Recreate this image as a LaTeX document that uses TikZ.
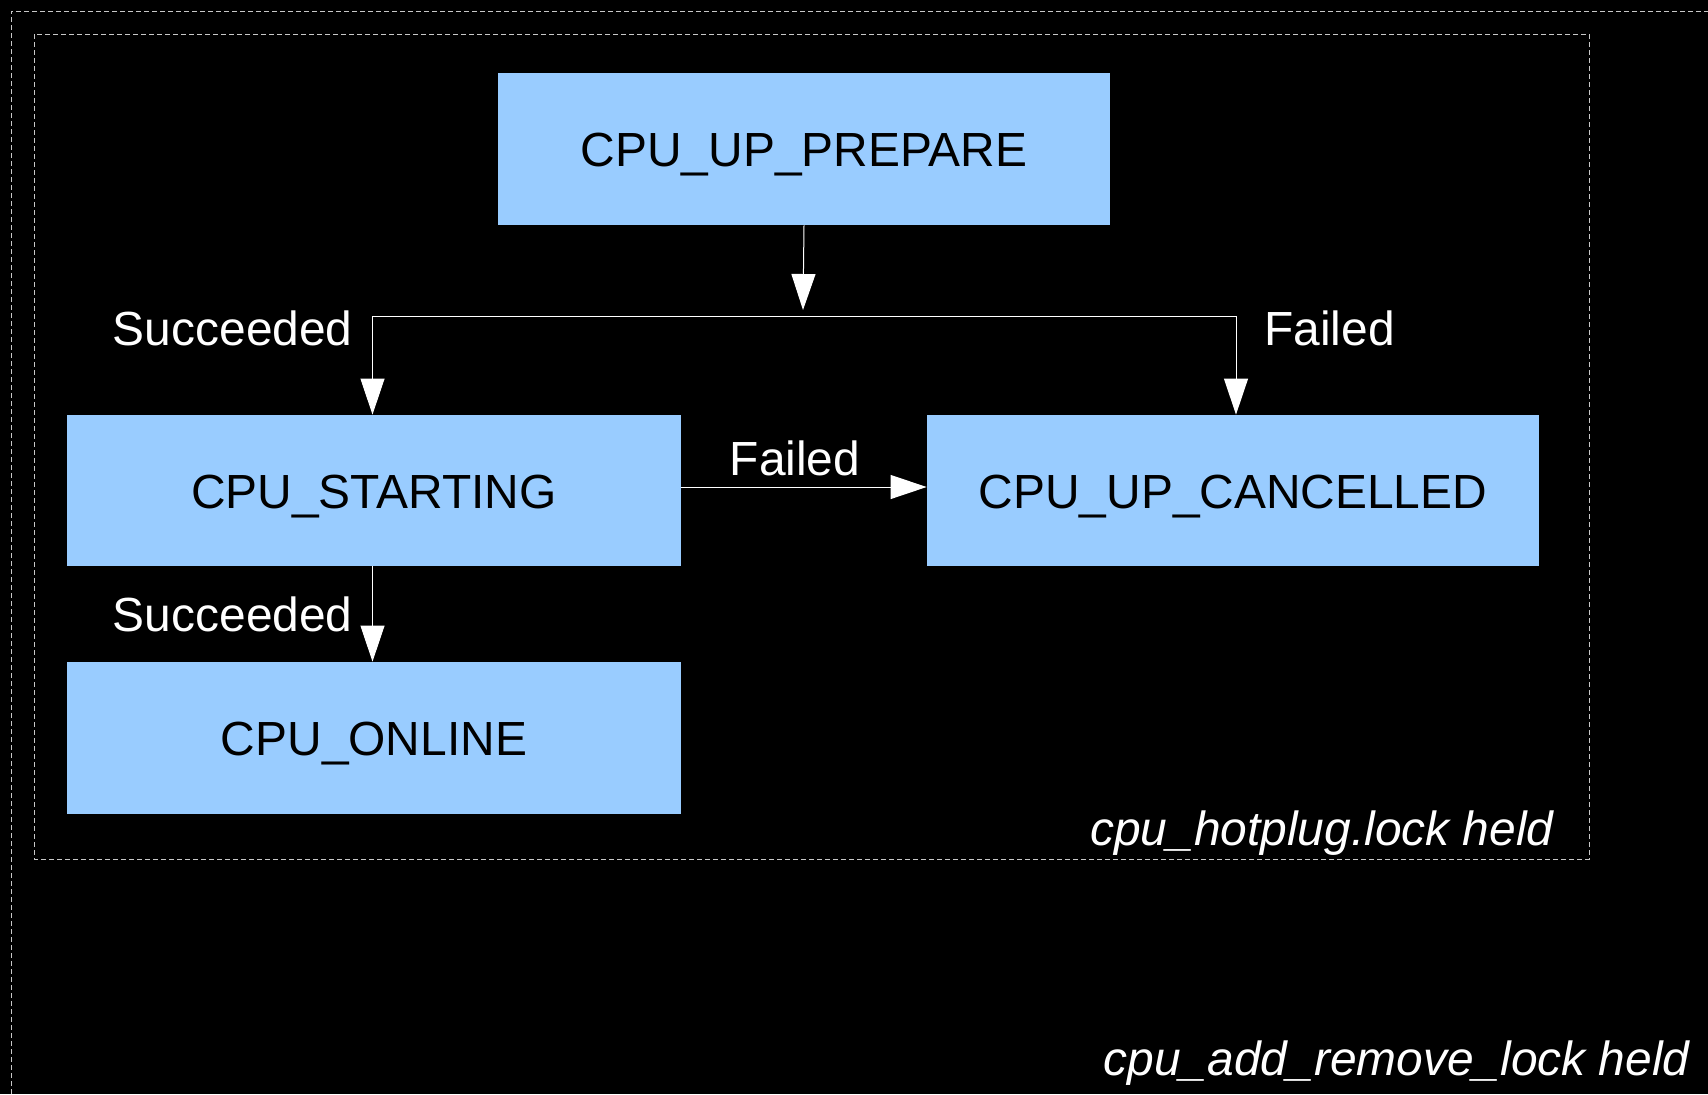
\documentclass[tikz,border=0pt]{standalone}
\usepackage{fontspec}
\setmainfont{Liberation Sans}
\usetikzlibrary{arrows.meta}
\definecolor{boxblue}{HTML}{99CCFF}
\definecolor{dashgray}{RGB}{200,200,200}
\begin{document}
\begin{tikzpicture}[x=0.5pt,y=-0.5pt,
  every node/.style={font=\fontsize{23.95pt}{29pt}\selectfont},
  statebox/.style={rectangle, fill=boxblue, inner sep=0pt, text=black,
    minimum width=306pt, minimum height=76pt, text height=17.8pt, text depth=0pt},
  lbl/.style={text=white, inner sep=0pt},
  ilbl/.style={text=white, inner sep=0pt, font=\fontsize{23.95pt}{29pt}\selectfont\itshape},
  conn/.style={draw=white, line width=0.5pt},
  arr/.style={conn, -{Triangle[length=18pt, width=12pt, fill=white]}},
  region/.style={draw=dashgray, line width=0.5pt, dash pattern=on 2.5pt off 1.5pt}
]
\fill[black] (0,0) rectangle (1708,1094);
\useasboundingbox (0,0) rectangle (1708,1094);

% lock regions
\draw[region] (11,1094) -- (11,11) -- (1708,11);
\draw[region] (34,34) rectangle (1589,859);
\node[ilbl, anchor=base east] (hotplug) at (1554,845) {cpu\_hotplug.lock held};
\node[ilbl, anchor=base east] (addremove) at (1690,1075) {cpu\_add\_remove\_lock held};

% states
\node[statebox] (prep) at (804,149) {CPU\_UP\_PREPARE};
\node[statebox, minimum width=306.75pt, minimum height=75.5pt] (start) at (374,490.5) {CPU\_STARTING};
\node[statebox, minimum height=75.5pt] (cancel) at (1233,490.5) {CPU\_UP\_CANCELLED};
\node[statebox, minimum width=306.75pt] (online) at (374,738) {CPU\_ONLINE};

% connectors
\coordinate (tip) at (803,310);
\coordinate (jl) at (372.5,316);
\coordinate (jr) at (1236,316);
\draw[arr] (prep.south) -- (tip);
\draw[conn] (jl) -- (jr);
\draw[arr] (jl) -- (start.north -| jl);
\draw[arr] (jr) -- (cancel.north -| jr);
\draw[arr] ([yshift=1.75pt]start.east) -- ([yshift=1.75pt]cancel.west);
\draw[arr] (start.south -| jl) -- (online.north -| jl);

% labels
\node[lbl, anchor=base east] (s1) at (353,345) {Succeeded};
\node[lbl, anchor=base west] (f1) at (1264,345) {Failed};
\node[lbl, anchor=base] (f2) at (795,475) {Failed};
\node[lbl, anchor=base east] (s2) at (353,631.5) {Succeeded};
\end{tikzpicture}
\end{document}
